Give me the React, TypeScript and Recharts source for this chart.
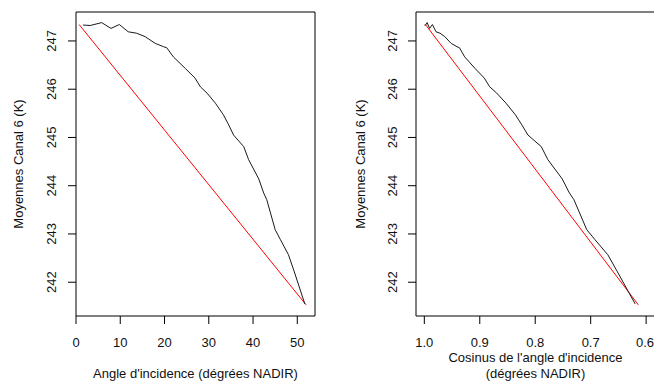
import React from 'react';
import { LineChart, Line, XAxis, YAxis, ReferenceArea } from 'recharts';

// mean channel 6 brightness temperature vs incidence angle
const angles = [1.6, 3.2, 5.8, 7.9, 9.8, 11.8, 13.7, 15.6, 17.9, 19.8, 20.5, 22.0, 24.7, 26.9, 28.1, 29.6, 31.5, 33.3, 34.5, 35.6, 37.9, 39.0, 41.3, 42.4, 43.1, 45.0, 46.2, 48.0, 49.2, 51.7];
const temps = [247.33, 247.32, 247.38, 247.26, 247.34, 247.19, 247.16, 247.09, 246.95, 246.88, 246.86, 246.67, 246.43, 246.23, 246.05, 245.92, 245.71, 245.47, 245.26, 245.05, 244.81, 244.54, 244.14, 243.85, 243.71, 243.09, 242.88, 242.57, 242.25, 241.55];

// red reference line (first to last point)
const redAngles = [0.7, 52];
const redCosines = [0.998, 0.614];
const redTemps = [247.34, 241.53];

const angleTicks = [0, 10, 20, 30, 40, 50];
const cosTicks = [1.0, 0.9, 0.8, 0.7, 0.6];
const tempTicks = [242, 243, 244, 245, 246, 247];

const angleDomain = [0, 54];
const cosDomain = [0.584, 1.015];
const tempDomain = [241.3, 247.6];

const FONT = '"Liberation Sans", Arial, Helvetica, sans-serif';
const TXT = '#111';
const FS = 13;

const blackLeft = angles.map((a, i) => ({ x: a, y: temps[i] }));
const blackRight = angles.map((a, i) => ({ x: Math.cos((a * Math.PI) / 180), y: temps[i] }));
const redLeft = redAngles.map((a, i) => ({ x: a, y: redTemps[i] }));
const redRight = redCosines.map((c, i) => ({ x: c, y: redTemps[i] }));

const XTick = (props: any) => {
  const { x, y, payload, decimals } = props;
  return (
    <text x={x} y={y + 20.5} textAnchor="middle" fontSize={FS} fill={TXT} fontFamily={FONT}>
      {decimals ? Number(payload.value).toFixed(decimals) : payload.value}
    </text>
  );
};

const YTick = (props: any) => {
  const { x, y, payload, shift } = props;
  const bx = x - shift;
  return (
    <text x={bx} y={y} transform={`rotate(-90, ${bx}, ${y})`} textAnchor="middle" fontSize={FS} fill={TXT} fontFamily={FONT}>
      {payload.value}
    </text>
  );
};

const yTitle = (dx: number) => (props: any) => {
  const vb = props.viewBox || props;
  const cx = vb.x + dx;
  const cy = vb.y + vb.height / 2;
  return (
    <text x={cx} y={cy} transform={`rotate(-90, ${cx}, ${cy})`} textAnchor="middle" fontSize={FS} fill={TXT} fontFamily={FONT}>
      Moyennes Canal 6 (K)
    </text>
  );
};

const xTitle = (lines: string[], firstY: number) => (props: any) => {
  const vb = props.viewBox || props;
  const cx = vb.x + vb.width / 2;
  return (
    <text textAnchor="middle" fontSize={FS} fill={TXT} fontFamily={FONT}>
      {lines.map((l, i) => (
        <tspan key={i} x={cx} y={vb.y + firstY + i * 16.5}>{l}</tspan>
      ))}
    </text>
  );
};

export default function App() {
  return (
    <div style={{ position: 'absolute', left: 0, top: 0, width: 654, height: 383, overflow: 'hidden', background: '#fff' }}>
      <div style={{ position: 'absolute', left: 0, top: 0 }}>
        <LineChart width={330} height={383} margin={{ top: 12, right: 15, bottom: 0, left: 0 }}>
          <XAxis
            type="number"
            dataKey="x"
            domain={angleDomain}
            ticks={angleTicks}
            allowDataOverflow
            axisLine={false}
            tickSize={8}
            tickLine={{ stroke: '#000' }}
            tick={<XTick />}
            height={67}
            label={xTitle(["Angle d'incidence (dégrées NADIR)"], 61.5)}
          />
          <YAxis
            type="number"
            dataKey="y"
            domain={tempDomain}
            ticks={tempTicks}
            allowDataOverflow
            axisLine={false}
            tickSize={8}
            tickLine={{ stroke: '#000' }}
            tick={<YTick shift={9.5} />}
            width={76}
            label={yTitle(23)}
          />
          <ReferenceArea x1={angleDomain[0]} x2={angleDomain[1]} y1={tempDomain[0]} y2={tempDomain[1]} fill="none" stroke="#000" strokeWidth={1} ifOverflow="visible" />
          <Line data={redLeft} dataKey="y" stroke="#ff0000" strokeWidth={1} dot={false} isAnimationActive={false} />
          <Line data={blackLeft} dataKey="y" stroke="#1a1a1a" strokeWidth={1} dot={false} isAnimationActive={false} />
        </LineChart>
      </div>
      <div style={{ position: 'absolute', left: 330, top: 0 }}>
        <LineChart width={325} height={383} margin={{ top: 12, right: 0, bottom: 0, left: 0 }}>
          <XAxis
            type="number"
            dataKey="x"
            domain={cosDomain}
            ticks={cosTicks}
            reversed
            allowDataOverflow
            axisLine={false}
            tickSize={8}
            tickLine={{ stroke: '#000' }}
            tick={<XTick decimals={1} />}
            height={67}
            label={xTitle(["Cosinus de l'angle d'incidence", '(dégrées NADIR)'], 45.5)}
          />
          <YAxis
            type="number"
            dataKey="y"
            domain={tempDomain}
            ticks={tempTicks}
            allowDataOverflow
            axisLine={false}
            tickSize={8}
            tickLine={{ stroke: '#000' }}
            tick={<YTick shift={9} />}
            width={86}
            label={yTitle(34.5)}
          />
          <ReferenceArea x1={cosDomain[0]} x2={cosDomain[1]} y1={tempDomain[0]} y2={tempDomain[1]} fill="none" stroke="#000" strokeWidth={1} ifOverflow="visible" />
          <Line data={redRight} dataKey="y" stroke="#ff0000" strokeWidth={1} dot={false} isAnimationActive={false} />
          <Line data={blackRight} dataKey="y" stroke="#1a1a1a" strokeWidth={1} dot={false} isAnimationActive={false} />
        </LineChart>
      </div>
    </div>
  );
}
